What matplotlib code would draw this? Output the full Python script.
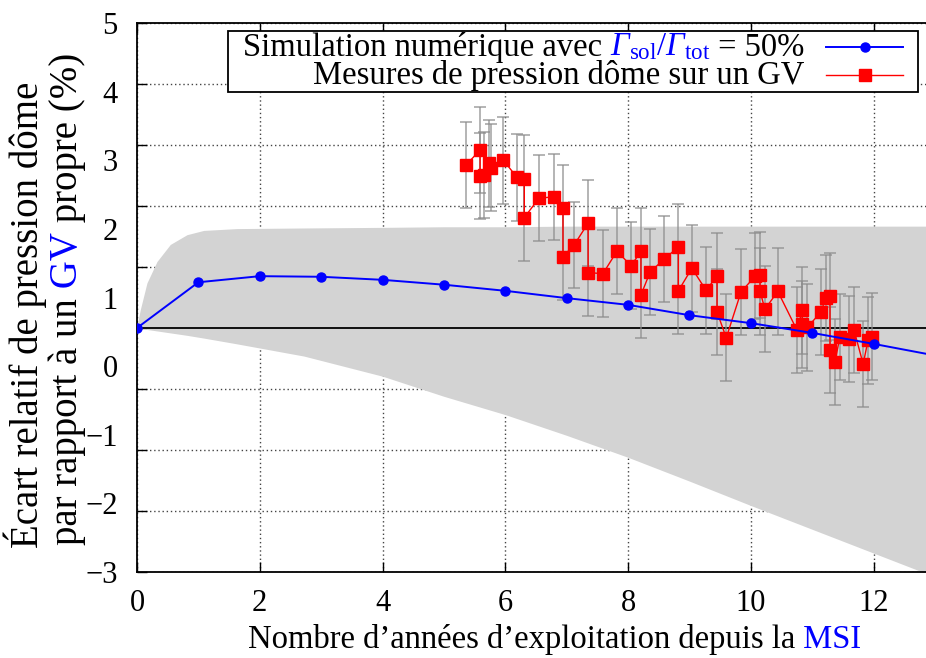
import numpy as np
import matplotlib
matplotlib.use('Agg')
import matplotlib.pyplot as plt
from matplotlib.lines import Line2D
from matplotlib.offsetbox import TextArea, HPacker, VPacker, AnchoredOffsetbox, DrawingArea

plt.rcParams['font.family'] = ['Liberation Serif', 'DejaVu Serif']
plt.rcParams['mathtext.fontset'] = 'custom'
plt.rcParams['mathtext.rm'] = 'Liberation Serif'
plt.rcParams['mathtext.it'] = 'Liberation Serif:italic'
# \mathsf sert ici pour avoir un Gamma en italique
plt.rcParams['mathtext.sf'] = 'Liberation Serif:italic'

# simulation (annees, ecart en %)
sim_x = [0, 1, 2, 3, 4, 5, 6, 7, 8, 9, 10, 11, 12, 13]
sim_y = [0, 0.75, 0.85, 0.84, 0.79, 0.71, 0.61, 0.49, 0.38, 0.21, 0.08, -0.08, -0.26, -0.45]

# enveloppe grise
env_x = [0, 0.016, 0.054, 0.163, 0.326, 0.543, 0.815, 1.087, 1.63, 2.72, 4, 5, 6, 7, 8, 9, 10, 11, 12, 13]
env_hi = [0, 0.11, 0.30, 0.74, 1.09, 1.37, 1.53, 1.60, 1.63, 1.64, 1.65, 1.66, 1.66, 1.67, 1.67, 1.67, 1.67, 1.67, 1.67, 1.67]
env_lo = [0, -0.002, -0.008, -0.024, -0.048, -0.08, -0.12, -0.165, -0.26, -0.46, -0.79, -1.12, -1.42, -1.76, -2.12, -2.51, -2.91, -3.30, -3.69, -4.08]

# mesures de pression dome
mes_x = [5.36, 5.59, 5.59, 5.66, 5.74, 5.77, 5.97, 6.19, 6.31, 6.31, 6.55, 6.80, 6.94, 6.94, 7.12,
         7.35, 7.35, 7.59, 7.82, 8.05, 8.21, 8.21, 8.36, 8.59, 8.82, 8.82, 9.04, 9.27, 9.45, 9.45,
         9.60, 9.84, 10.07, 10.15, 10.15, 10.23, 10.44, 10.75, 10.84, 10.84, 10.92, 11.14, 11.22,
         11.29, 11.29, 11.37, 11.45, 11.60, 11.68, 11.83, 11.91, 11.98]
mes_y = [2.67, 2.92, 2.49, 2.51, 2.70, 2.63, 2.75, 2.47, 2.45, 1.81, 2.13, 2.15, 1.96, 1.17, 1.36,
         1.72, 0.91, 0.89, 1.26, 1.02, 1.26, 0.54, 0.92, 1.13, 1.33, 0.61, 0.98, 0.62, 0.85, 0.26,
         -0.16, 0.59, 0.85, 0.87, 0.60, 0.31, 0.60, -0.03, 0.29, 0.06, 0.01, 0.26, 0.49,
         0.52, -0.36, -0.56, -0.15, -0.18, -0.03, -0.59, -0.20, -0.14]
mes_err = 0.71

xticks = [0, 2, 4, 6, 8, 10, 12]
yticks_lbl = [-3, -2, -1, 0, 1, 2, 3, 4, 5]

fig = plt.figure(figsize=(9.26, 6.58), dpi=100)
ax = fig.add_axes([0.1479, 0.1307, 0.8618, 0.8343])

ax.fill_between(env_x, env_lo, env_hi, color='#d3d3d3', lw=0, zorder=1)
ax.axhline(0, color='black', lw=1.3, zorder=2)
ax.errorbar(mes_x, mes_y, yerr=mes_err, fmt='none', ecolor='#8c8c8c', alpha=0.65,
            elinewidth=1.4, capsize=4, capthick=1.4, zorder=3)
ax.plot(mes_x, mes_y, color='red', lw=1, marker='s', ms=8.5, zorder=4)
ax.plot(sim_x, sim_y, color='blue', lw=1.4, marker='o', ms=6.5, zorder=5)

ax.set_xlim(0, 13)
ax.set_ylim(-4, 5)
ax.set_xticks(xticks)
ax.set_yticks(range(-4, 6))
ax.set_yticklabels([])
ax.set_axisbelow(True)
ax.grid(True, linestyle=(0, (1, 2)), color='#444444', lw=1)
ax.tick_params(direction='in', length=7, width=1, top=True, labelsize=22)
ax.tick_params(axis='x', pad=12)
for s in ax.spines.values():
    s.set_linewidth(1.3)

# les etiquettes de l'axe y
sec = ax.secondary_yaxis('left', functions=(lambda y: -3 + (y + 4) * 8 / 9,
                                            lambda y: (y + 3) * 9 / 8 - 4))
sec.set_yticks(yticks_lbl)
sec.tick_params(length=0, pad=14, labelsize=22)
sec.spines['left'].set_visible(False)

# label x avec MSI en bleu
fs = 23.5
t = fig.text(248 / 926, 1 - 648 / 658, 'Nombre d\u2019années d\u2019exploitation depuis la',
             fontsize=fs, ha='left', va='baseline')
ax.annotate(' MSI', xy=(1, 1 - 648 / 658), xycoords=(t, 'figure fraction'), fontsize=fs,
            ha='left', va='baseline', color='blue', annotation_clip=False)

# label y sur deux lignes
fy = 28
fig.text(38 / 926, 1 - 548 / 658, 'Écart relatif de pression dôme', fontsize=fy,
         rotation=90, rotation_mode='anchor', ha='left', va='baseline')
bx = 77 / 926
t1 = fig.text(bx, 1 - 545 / 658, 'par rapport à un', fontsize=fy,
              rotation=90, rotation_mode='anchor', ha='left', va='baseline')
t2 = ax.annotate(' GV', xy=(bx, 1), xycoords=('figure fraction', t1), fontsize=fy,
                 rotation=90, rotation_mode='anchor', ha='left', va='baseline', color='blue',
                 annotation_clip=False)
ax.annotate(' propre (%)', xy=(bx, 1), xycoords=('figure fraction', t2), fontsize=fy,
            rotation=90, rotation_mode='anchor', ha='left', va='baseline', annotation_clip=False)

# legende
tp = dict(fontsize=fs)
row1 = HPacker(children=[
    DrawingArea(10, 1),
    TextArea('Simulation numérique avec ', textprops=tp),
    TextArea(r'$\mathsf{\Gamma}_{\rm sol}/\mathsf{\Gamma}_{\rm tot}$',
             textprops=dict(fontsize=fs, color='blue')),
    TextArea(r' = 50%', textprops=tp),
], align='baseline', pad=0, sep=0)
row2 = TextArea('Mesures de pression dôme sur un GV', textprops=tp)

# echantillons de la legende (56 pt de trait + 10 pt de marge a droite)
da1 = DrawingArea(66, 14)
da1.add_artist(Line2D([0, 56], [7, 7], color='blue', lw=1.4))
da1.add_artist(Line2D([28], [7], color='blue', marker='o', ms=6.5))
da2 = DrawingArea(66, 14)
da2.add_artist(Line2D([0, 56], [7, 7], color='red', lw=1))
da2.add_artist(Line2D([28], [7], color='red', marker='s', ms=8.5))

r1 = HPacker(children=[row1, da1], align='center', pad=0, sep=15)
r2 = HPacker(children=[row2, da2], align='center', pad=0, sep=15)
box = VPacker(children=[r1, r2], align='right', pad=0, sep=-2)
leg = AnchoredOffsetbox(loc='upper right', child=box, pad=0.05, borderpad=0,
                        bbox_to_anchor=(918 / 926, 1 - 31 / 658),
                        bbox_transform=fig.transFigure, frameon=True)
leg.patch.set_boxstyle('square', pad=0)
leg.patch.set_edgecolor('black')
leg.patch.set_linewidth(1.3)
leg.zorder = 6
ax.add_artist(leg)

fig.savefig('out.png', dpi=100)
